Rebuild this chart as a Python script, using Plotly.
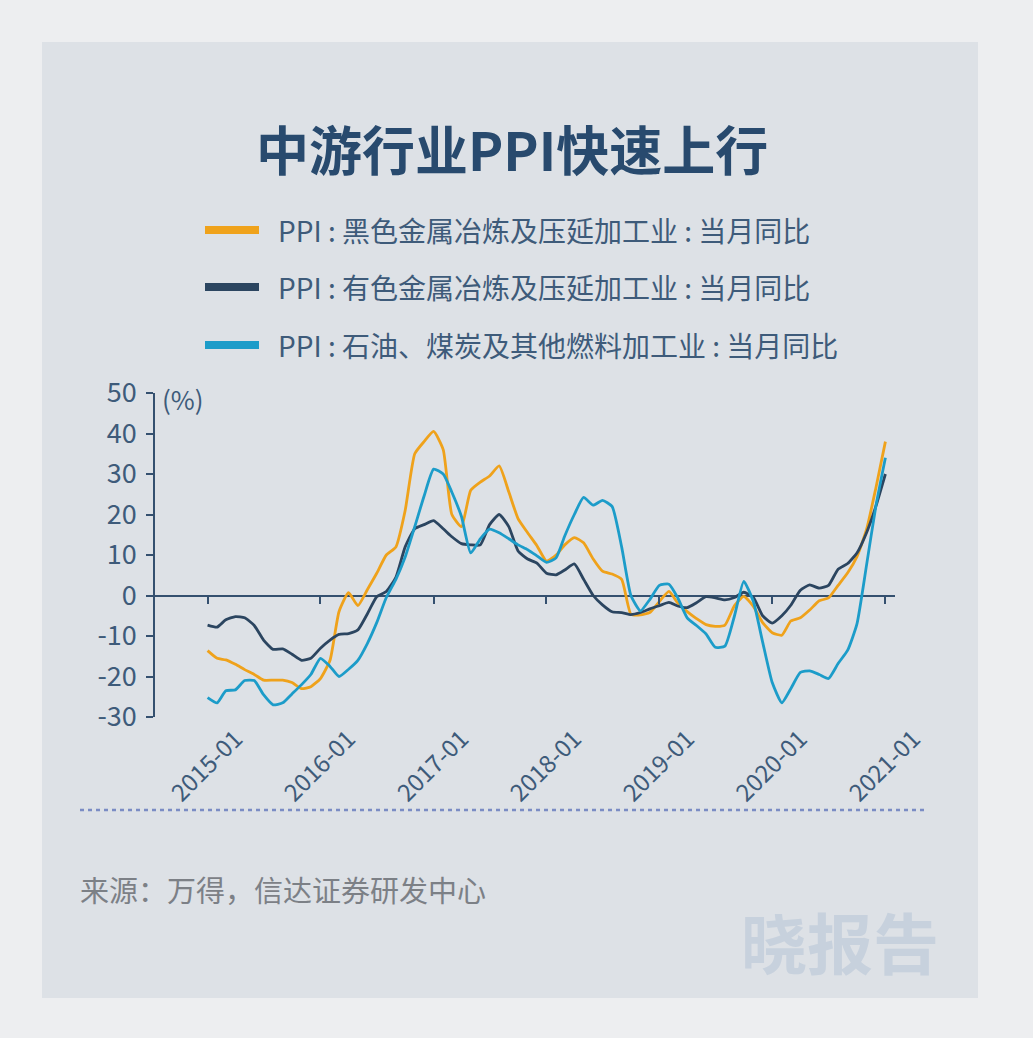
import pandas as pd
import plotly.graph_objects as go

# ---------------- data ----------------
months = pd.date_range("2015-01-01", "2021-01-01", freq="MS")

ferrous = [  # PPI:黑色金属冶炼及压延加工业:当月同比
    -13.6, -15.5, -15.9, -17.0, -18.3, -19.5, -20.9, -20.9, -20.9, -21.5, -23.0, -22.5,
    -20.5, -16.0, -4.0, 0.7, -2.5, 1.5, 5.5, 10.0, 12.0, 21.0, 35.0, 38.0,
    40.5, 36.0, 20.0, 17.0, 26.0, 28.0, 29.5, 32.0, 25.6, 19.0, 15.5, 12.3,
    8.5, 10.0, 12.5, 14.3, 13.0, 9.0, 6.0, 5.3, 4.0, -4.6, -4.8, -4.2,
    -1.5, 1.0, -1.8, -4.0, -5.7, -7.2, -7.6, -7.3, -2.5, -0.2, -2.7, -6.7,
    -9.2, -9.8, -6.3, -5.5, -3.6, -1.3, -0.6, 2.5, 5.6, 9.6, 16.3, 26.5,
    38.0,
]
nonferrous = [  # PPI:有色金属冶炼及压延加工业:当月同比
    -7.3, -7.8, -6.0, -5.2, -5.5, -7.4, -11.0, -13.3, -13.2, -14.5, -16.0, -15.5,
    -13.0, -11.0, -9.6, -9.4, -8.5, -4.5, -0.3, 1.0, 4.5, 12.0, 16.5, 17.5,
    18.5, 16.5, 14.5, 12.8, 12.5, 12.5, 17.5, 20.0, 17.0, 11.0, 9.0, 8.0,
    5.5, 5.1, 6.3, 7.8, 4.0, 0.0, -2.3, -4.0, -4.2, -4.7, -4.2, -3.3,
    -2.5, -1.7, -2.6, -3.0, -1.8, -0.3, -0.6, -1.1, -0.5, 0.8, -0.5, -5.0,
    -6.8, -5.0, -2.4, 1.3, 2.6, 1.8, 2.5, 6.5, 7.9, 10.5, 15.5, 22.0,
    30.0,
]
petroleum = [  # PPI:石油、煤炭及其他燃料加工业:当月同比
    -25.2, -26.5, -23.5, -23.3, -21.0, -21.0, -24.5, -27.0, -26.5, -24.3, -22.0, -19.5,
    -15.5, -17.5, -20.0, -18.2, -16.0, -11.8, -6.7, -0.5, 4.0, 9.5, 17.0, 24.5,
    31.2, 30.0, 25.5, 19.5, 10.5, 14.0, 16.4, 15.5, 14.0, 12.5, 11.3, 9.8,
    8.2, 9.3, 14.7, 20.0, 24.2, 22.3, 23.5, 22.0, 12.0, 0.0, -3.8, -1.0,
    2.5, 2.8, -0.5, -5.5, -7.4, -9.5, -12.8, -12.5, -5.0, 3.5, -1.5, -11.5,
    -21.5, -26.5, -23.0, -19.0, -18.6, -19.5, -20.5, -16.8, -13.5, -7.0, 7.5, 22.0,
    34.0,
]

series_names = [
    "PPI : 黑色金属冶炼及压延加工业 : 当月同比",
    "PPI : 有色金属冶炼及压延加工业 : 当月同比",
    "PPI : 石油、煤炭及其他燃料加工业 : 当月同比",
]
series_values = [ferrous, nonferrous, petroleum]
series_colors = ["#EFA21B", "#2B4560", "#1C9CC9"]

year_ticks = pd.date_range("2015-01-01", "2021-01-01", freq="YS")
year_labels = [d.strftime("%Y-%m") for d in year_ticks]
y_ticks = [-30, -20, -10, 0, 10, 20, 30, 40, 50]
y_labels = ["-30", "-20", "-10", "0", "10", "20", "30", "40", "50"]

title_text = "中游行业PPI快速上行"
unit_text = "(%)"
source_text = "来源：万得，信达证券研发中心"
watermark_text = "晓报告"

# ---------------- layout geometry (pixels) ----------------
W, H = 1033, 1038
L, R, T, B = 155, 895, 393, 717   # plot area edges in pixels


def px(x):
    return (x - L) / (R - L)


def py(y):
    return (B - y) / (B - T)


FONT = "Noto Sans CJK SC"
AXIS_COL = "#34506F"
TEXT_COL = "#3E5B7A"

fig = go.Figure()
for name, vals, col in zip(series_names, series_values, series_colors):
    fig.add_trace(go.Scatter(
        x=months, y=vals, mode="lines", name=name,
        line=dict(color=col, width=2.8, shape="spline", smoothing=0.5),
        showlegend=False,
    ))

x_range = [pd.Timestamp("2014-07-15"), pd.Timestamp("2021-02-01")]

fig.update_layout(
    width=W, height=H,
    margin=dict(l=L, r=W - R, t=T, b=H - B, pad=0),
    paper_bgcolor="#EDEEF0",
    plot_bgcolor="rgba(0,0,0,0)",
    font=dict(family=FONT, color=TEXT_COL),
    xaxis=dict(
        range=x_range, showgrid=False, zeroline=False, showline=False,
        tickmode="array", tickvals=year_ticks, ticktext=year_labels,
        ticks="", tickangle=-45, ticklabelshift=28, ticklabelstandoff=2,
        tickfont=dict(size=24, color=TEXT_COL, family=FONT),
    ),
    xaxis2=dict(
        range=x_range, overlaying="x", matches="x", anchor="free",
        position=30 / 80, side="bottom",
        showgrid=False, zeroline=False, showline=False,
        tickmode="array", tickvals=year_ticks, showticklabels=False,
        ticks="outside", ticklen=7, tickwidth=1.5, tickcolor=AXIS_COL,
    ),
    yaxis=dict(
        range=[-30, 50], showgrid=False,
        zeroline=True, zerolinecolor=AXIS_COL, zerolinewidth=1.6,
        showline=True, linecolor=AXIS_COL, linewidth=1.6,
        tickmode="array", tickvals=y_ticks, ticktext=y_labels,
        ticks="outside", ticklen=7, tickwidth=1.5, tickcolor=AXIS_COL,
        ticklabelstandoff=4,
        tickfont=dict(size=27, color=TEXT_COL, family=FONT),
    ),
)

# invisible helper trace so the zero-line tick axis is rendered
fig.add_trace(go.Scatter(x=[months[0]], y=[None], xaxis="x2", yaxis="y",
                         mode="lines", showlegend=False, hoverinfo="skip"))

shapes = [
    # inner panel
    dict(type="rect", xref="paper", yref="paper", layer="below",
         x0=px(42), x1=px(978), y0=py(998), y1=py(42),
         fillcolor="#DDE1E6", line=dict(width=0)),
    # dotted separator
    dict(type="line", xref="paper", yref="paper",
         x0=px(80), x1=px(926), y0=py(810), y1=py(810),
         line=dict(color="#7A8CC4", width=2.5, dash="4px,4px")),
]
legend_rows = [230, 287, 345]
for yy, col in zip(legend_rows, series_colors):
    shapes.append(dict(type="line", xref="paper", yref="paper",
                       x0=px(205), x1=px(259), y0=py(yy), y1=py(yy),
                       line=dict(color=col, width=8)))

annotations = [
    dict(text=f"<b>{title_text}</b>", xref="paper", yref="paper",
         x=px(512), y=py(148), xanchor="center", yanchor="middle",
         showarrow=False, font=dict(size=53, color="#284A6E", family=FONT)),
    dict(text=unit_text, xref="paper", yref="paper",
         x=px(160), y=py(398), xanchor="left", yanchor="middle",
         showarrow=False, font=dict(size=26, color=TEXT_COL, family=FONT)),
    dict(text=source_text, xref="paper", yref="paper",
         x=px(78), y=py(889), xanchor="left", yanchor="middle",
         showarrow=False, font=dict(size=29, color="#7C8086", family=FONT)),
    dict(text=f"<b>{watermark_text}</b>", xref="paper", yref="paper",
         x=px(840), y=py(940), xanchor="center", yanchor="middle",
         showarrow=False, font=dict(size=66, color="#C7D1DD", family=FONT)),
]
for yy, name in zip(legend_rows, series_names):
    annotations.append(dict(text=name, xref="paper", yref="paper",
                            x=px(276), y=py(yy), xanchor="left", yanchor="middle",
                            showarrow=False,
                            font=dict(size=28, color=TEXT_COL, family=FONT)))

fig.update_layout(shapes=shapes, annotations=annotations)

fig.write_html("out.html")
